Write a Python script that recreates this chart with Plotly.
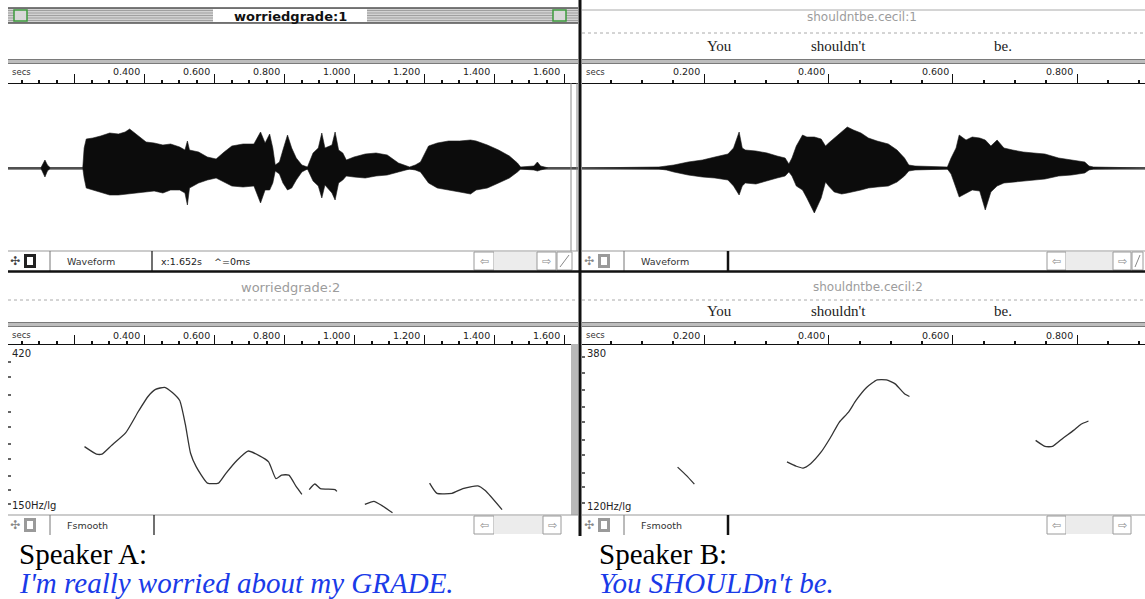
import math
import plotly.graph_objects as go

# ---------------- data ----------------
# Speaker A waveform envelope: time (s), upper / lower amplitude (arbitrary units)
wave_a_t = [0.010,0.105,0.111,0.117,0.124,0.133,0.225,0.229,0.235,0.254,0.276,0.302,0.327,0.346,0.359,0.378,
            0.406,0.429,0.454,0.476,0.502,0.517,0.524,0.530,0.556,0.581,0.606,0.629,0.651,0.683,0.714,0.733,
            0.746,0.759,0.768,0.775,0.787,0.797,0.810,0.822,0.835,0.851,0.867,0.883,0.898,0.908,0.917,0.937,
            0.946,0.956,0.968,0.978,1.000,1.032,1.063,1.095,1.127,1.159,1.175,1.190,1.213,1.238,1.270,1.302,
            1.333,1.349,1.381,1.413,1.444,1.467,1.476,1.514,1.524,1.533,1.556,1.640]
wave_a_hi = [0,0,4,8,3,0,0,20,29,30,32,35,34,36,39,34,
             26,25,23,24,21,18,27,18,16,11,9,16,22,24,24,36,
             25,34,20,3,6,18,33,20,10,3,1,15,20,35,20,23,
             36,18,15,8,11,14,15,13,5,1,3,6,22,25,27,27,
             28,27,23,18,12,5,1,2,6,2,0,0]
wave_a_lo = [0,0,4,9,3,0,0,10,20,22,24,27,27,26,26,25,
             24,23,25,22,22,25,37,20,15,12,10,14,18,19,18,35,
             22,22,15,3,6,15,22,20,12,4,1,13,18,30,17,25,
             32,15,12,8,9,10,8,7,4,1,2,4,15,20,22,24,
             26,22,20,15,10,4,1,2,3,2,0,0]

# Speaker B waveform envelope
wave_b_t = [0.003,0.127,0.139,0.151,0.174,0.197,0.217,0.238,0.247,0.256,0.261,0.266,0.283,0.301,0.317,0.330,
            0.336,0.341,0.348,0.358,0.365,0.377,0.388,0.395,0.400,0.409,0.421,0.430,0.440,0.452,0.464,0.478,
            0.496,0.510,0.522,0.529,0.539,0.591,0.597,0.605,0.610,0.621,0.631,0.643,0.652,0.661,0.671,0.682,
            0.696,0.713,0.730,0.748,0.770,0.791,0.812,0.819,0.826,0.909]
wave_b_hi = [0,1,2,3,6,8,11,14,20,36,20,18,17,15,12,10,
             4,10,22,33,31,31,29,22,25,30,36,41,38,35,30,27,
             24,18,10,3,2,1,10,20,33,28,31,30,28,22,28,20,
             18,16,15,14,10,8,6,2,1,0]
wave_b_lo = [0,1,2,4,7,9,10,12,18,27,18,15,16,13,10,8,
             4,8,18,22,30,45,30,14,18,24,26,25,24,22,20,19,
             18,14,8,3,2,1,6,20,29,25,22,23,42,24,18,15,
             14,13,12,11,8,7,5,2,1,0]

# Pitch tracks (time s, F0 Hz); None marks unvoiced gaps
pitch_a_t = [0.230,0.264,0.280,0.306,0.348,0.385,0.412,0.433,0.459,0.481,0.502,0.518,0.533,0.549,0.581,0.613,
             0.634,0.666,0.697,0.729,0.756,0.777,0.793,0.814,0.835,0.851,None,
             0.872,0.888,0.904,0.946,0.951,None,
             1.031,1.057,1.079,1.110,None,
             1.216,1.237,1.280,1.311,1.354,1.375,1.423]
pitch_a_hz = [227,217,217,228,247,282,308,321,325,315,300,260,218,201,182,182,
              193,209,221,215,207,187,191,191,178,170,None,
              175,181,176,175,173,None,
              160,163,159,152,None,
              182,171,171,176,179,174,155]

pitch_b_t = [0.157,0.171,0.184,None,
             0.333,0.348,0.359,0.371,0.388,0.403,0.417,0.432,0.444,0.461,0.478,0.493,0.507,0.522,0.530,None,
             0.733,0.748,0.760,0.777,0.794,0.806,0.818]
pitch_b_hz = [166,157,148,None,
              172,167,165,170,184,203,225,241,261,285,300,300,292,273,268,None,
              199,191,191,202,213,222,227]

ruler_a_ticks = [0.4, 0.6, 0.8, 1.0, 1.2, 1.4, 1.6]
ruler_a_text = ["0.400", "0.600", "0.800", "1.000", "1.200", "1.400", "1.600"]
ruler_b_ticks = [0.2, 0.4, 0.6, 0.8]
ruler_b_text = ["0.200", "0.400", "0.600", "0.800"]
words_b = ["You", "shouldn't", "be."]
words_b_x = [719, 838, 1003]

# ---------------- helpers ----------------
W, H = 1145, 599
def X(p): return p / W
def Y(p): return 1 - p / H

shapes = []
annos = []

def rect(x0, y0, x1, y1, fill=None, line=None, lw=1, dash=None):
    d = dict(type="rect", xref="paper", yref="paper", x0=X(x0), x1=X(x1), y0=Y(y1), y1=Y(y0),
             layer="above", line=dict(width=lw if line else 0, color=line or "rgba(0,0,0,0)"))
    if dash:
        d["line"]["dash"] = dash
    if fill:
        d["fillcolor"] = fill
    shapes.append(d)

def line(x0, y0, x1, y1, color="#000", lw=1, dash=None):
    d = dict(type="line", xref="paper", yref="paper", x0=X(x0), x1=X(x1), y0=Y(y0), y1=Y(y1),
             layer="above", line=dict(width=lw, color=color))
    if dash:
        d["line"]["dash"] = dash
    shapes.append(d)

def text(x, y, s, size=10, color="#222", anchor="left", family="DejaVu Sans", bold=False, italic=False):
    if bold:
        s = "<b>" + s + "</b>"
    if italic:
        s = "<i>" + s + "</i>"
    annos.append(dict(xref="paper", yref="paper", x=X(x), y=Y(y), text=s, showarrow=False,
                      xanchor=anchor, yanchor="middle",
                      font=dict(size=size, color=color, family=family)))

# ---------------- figure ----------------
fig = go.Figure()

def envelope(t, hi, lo, xa, ya):
    xs = list(t) + list(reversed(t))
    ys = list(hi) + [-v for v in reversed(lo)]
    fig.add_trace(go.Scatter(x=xs, y=ys, xaxis=xa, yaxis=ya, fill="toself", fillcolor="#0c0c0c",
                             mode="lines", line=dict(color="#1a1a1a", width=0.6), hoverinfo="skip"))

envelope(wave_a_t, wave_a_hi, wave_a_lo, "x", "y")
envelope(wave_b_t, wave_b_hi, wave_b_lo, "x2", "y2")

fig.add_trace(go.Scatter(x=pitch_a_t, y=pitch_a_hz, xaxis="x3", yaxis="y3", mode="lines",
                         connectgaps=False, line=dict(color="#333", width=1.3, shape="spline", smoothing=0.5)))
fig.add_trace(go.Scatter(x=pitch_b_t, y=pitch_b_hz, xaxis="x4", yaxis="y4", mode="lines",
                         connectgaps=False, line=dict(color="#333", width=1.3, shape="spline", smoothing=0.5)))

# axis ranges: left panels  x_px = 4 + 350 t ; right panels  x_px = 580 + 621.6 t
LA = [(8 - 4) / 350, (578 - 4) / 350]
RB = [(582 - 580) / 621.6, (1145 - 580) / 621.6]

def xaxis(dom, rng, anchor):
    return dict(domain=[X(dom[0]), X(dom[1])], range=rng, anchor=anchor, side="top",
                showline=True, linecolor="#111", linewidth=1, mirror=False,
                ticks="outside", tick0=0, dtick=0.2, ticklen=9, tickcolor="#111", tickwidth=1,
                minor=dict(ticks="outside", tick0=0, dtick=0.05, ticklen=3, tickcolor="#111", tickwidth=2),
                showticklabels=False, showgrid=False, zeroline=False, fixedrange=True)

def wave_y(anchor):
    return dict(domain=[Y(252), Y(84)], range=[-84, 84], anchor=anchor, showticklabels=False,
                showgrid=False, zeroline=True, zerolinecolor="#8c8c8c", zerolinewidth=3,
                ticks="", fixedrange=True)

def pitch_y(anchor, lo, hi, tv):
    return dict(domain=[Y(515), Y(345)], type="log", range=[math.log10(lo), math.log10(hi)],
                anchor=anchor, showticklabels=False, showgrid=False, zeroline=False,
                ticks="inside", tickvals=tv, ticklen=3, tickwidth=2, tickcolor="#666",
                showline=False, fixedrange=True)

fig.update_layout(
    width=W, height=H, margin=dict(l=0, r=0, t=0, b=0),
    paper_bgcolor="white", plot_bgcolor="white", showlegend=False,
    xaxis=xaxis([8, 578], LA, "y"),
    yaxis=wave_y("x"),
    xaxis2=xaxis([582, 1145], RB, "y2"),
    yaxis2=wave_y("x2"),
    xaxis3=xaxis([8, 578], LA, "y3"),
    yaxis3=pitch_y("x3", 150, 420, [160, 175, 190, 210, 230, 255, 280, 310, 345, 380]),
    xaxis4=xaxis([582, 1145], RB, "y4"),
    yaxis4=pitch_y("x4", 120, 380, [130, 145, 160, 180, 200, 225, 250, 280, 315, 350]),
)

# ---------------- window chrome ----------------
# top-left title bar
rect(8, 8, 578, 23, fill="#d2d2d2")
for yy in (10.5, 13, 15.5, 18, 20.5):
    line(8, yy, 578, yy, color="#a0a0a0", lw=1)
line(8, 8, 578, 8, color="#4f4f4f", lw=1.5)
line(8, 23, 578, 23, color="#4f4f4f", lw=1.5)
rect(213, 9, 367, 22, fill="white")
text(290, 16, "worriedgrade:1", size=13, color="#111", anchor="center", bold=True)
rect(14, 10, 27, 21, fill="#d8d8d8", line="#3d9b3d", lw=1.5)
rect(553, 10, 566, 21, fill="#d8d8d8", line="#3d9b3d", lw=1.5)

# top-right title (inactive window)
line(582, 10, 1145, 10, color="#aaaaaa", lw=1)
line(582, 33, 1145, 33, color="#aaaaaa", lw=1, dash="dot")
text(862, 17, "shouldntbe.cecil:1", size=12, color="#9c9c9c", anchor="center")
for w, wx in zip(words_b, words_b_x):
    text(wx, 46, w, size=15, color="#222", anchor="center", family="Liberation Serif")

# second-row titles
text(290, 287, "worriedgrade:2", size=13, color="#9c9c9c", anchor="center")
text(868, 287, "shouldntbe.cecil:2", size=12, color="#9c9c9c", anchor="center")
line(8, 300, 578, 300, color="#aaaaaa", lw=1, dash="dot")
line(582, 300, 1145, 300, color="#aaaaaa", lw=1, dash="dot")
for w, wx in zip(words_b, words_b_x):
    text(wx, 311, w, size=15, color="#222", anchor="center", family="Liberation Serif")

# ruler bands
for yt in (59, 322):
    for (a, b) in ((8, 578), (582, 1145)):
        rect(a, yt, b, yt + 5, fill="#bdbdbd")
        line(a, yt + 0.5, b, yt + 0.5, color="#7a7a7a", lw=1)
        line(a, yt + 4.5, b, yt + 4.5, color="#7a7a7a", lw=1)

for yr in (72, 335):
    text(10, yr, "secs", size=8.5, color="#333")
    text(584, yr, "secs", size=8.5, color="#333")
    for tv, tt in zip(ruler_a_ticks, ruler_a_text):
        annos.append(dict(xref="x", yref="paper", x=tv, y=Y(yr), text=tt, showarrow=False,
                          xanchor="right", yanchor="middle", xshift=-2,
                          font=dict(size=9.5, color="#222", family="DejaVu Sans")))
    for tv, tt in zip(ruler_b_ticks, ruler_b_text):
        annos.append(dict(xref="x2", yref="paper", x=tv, y=Y(yr), text=tt, showarrow=False,
                          xanchor="right", yanchor="middle", xshift=-2,
                          font=dict(size=9.5, color="#222", family="DejaVu Sans")))

# right edge of left panels
line(571, 83, 571, 251, color="#8a8a8a", lw=1)
line(577, 83, 577, 251, color="#8a8a8a", lw=1)
rect(571, 344, 578, 515, fill="#b8b8b8")

# pitch labels
text(10, 353, "420", size=10, color="#222")
text(10, 505, "150Hz/lg", size=10, color="#222")
text(585, 353, "380", size=10, color="#222")
text(585, 506, "120Hz/lg", size=10, color="#222")

# status bars
def status_bar(x0, x1, y0, y1, label, sep_x, sep_w, boxes, info=None, dark_icon=True):
    line(x0, y0, x1, y0, color="#9a9a9a", lw=1.2)
    ym = (y0 + y1) / 2
    text(x0 + 7, ym, "✣", size=12, color="#444" if dark_icon else "#888", anchor="center")
    rect(x0 + 16, y0 + 3, x0 + 28, y1 - 3, fill="#222" if dark_icon else "#9a9a9a")
    rect(x0 + 19, y0 + 6, x0 + 25, y1 - 6, fill="white")
    line(x0 + 42, y0, x0 + 42, y1, color="#777", lw=1)
    text(x0 + 57, ym, label, size=9.5, color="#333")
    line(sep_x, y0, sep_x, y1, color="#111", lw=sep_w)
    if info:
        text(sep_x + 7, ym, info, size=9.5, color="#222")
    bl, gl, gr, br, ze = boxes
    rect(bl, y0 + 1, gl, y1 - 1, fill="white", line="#9a9a9a", lw=1)
    text((bl + gl) / 2, ym, "⇦", size=11, color="#888", anchor="center")
    rect(gl, y0 + 1, gr, y1 - 1, fill="#ececec")
    rect(gr, y0 + 1, br, y1 - 1, fill="white", line="#9a9a9a", lw=1)
    text((gr + br) / 2, ym, "⇨", size=11, color="#888", anchor="center")
    if ze:
        rect(br + 1, y0 + 1, ze, y1 - 1, fill="white", line="#9a9a9a", lw=1)
        line(br + 4, y1 - 4, ze - 3, y0 + 4, color="#888", lw=1)

status_bar(8, 578, 251, 271, "Waveform", 152, 1.2, (474, 494, 537, 556, 572),
           info="x:1.652s    ^=0ms")
status_bar(582, 1145, 251, 271, "Waveform", 728, 2.5, (1047, 1066, 1113, 1131, 1143), dark_icon=False)
status_bar(8, 578, 515, 535, "Fsmooth", 154, 1.2, (474, 494, 543, 561, None), dark_icon=False)
status_bar(582, 1145, 515, 535, "Fsmooth", 728, 2.5, (1047, 1066, 1113, 1131, None), dark_icon=False)

line(8, 271.5, 1145, 271.5, color="#111", lw=2.5)
# vertical divider
line(580, 0, 580, 536, color="#111", lw=3)

# captions
text(17, 554, "Speaker A:", size=29, color="#000", family="Liberation Serif")
text(17, 583, "I'm really worried about my GRADE.", size=29, color="#1a3be8",
     family="Liberation Serif", italic=True)
text(597, 554, "Speaker B:", size=29, color="#000", family="Liberation Serif")
text(597, 583, "You SHOULDn't be.", size=29, color="#1a3be8",
     family="Liberation Serif", italic=True)

fig.update_layout(shapes=shapes, annotations=annos)
fig.write_html("out.html", config={"displayModeBar": False},
               post_script="document.body.style.margin='0';document.body.style.padding='0';"
                           "document.body.style.overflow='hidden';")
